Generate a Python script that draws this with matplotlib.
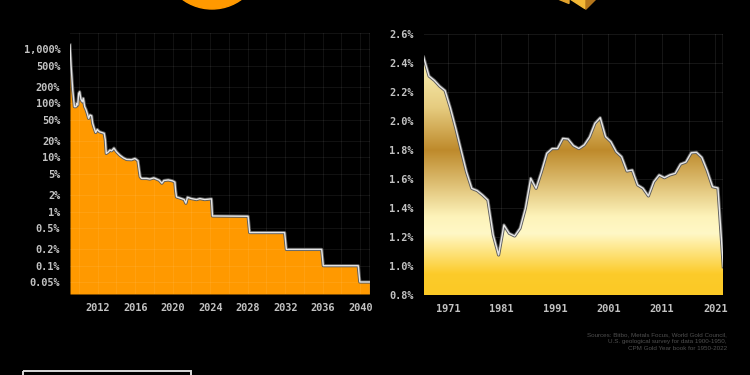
# Import necessary libraries
import matplotlib
matplotlib.use('Agg')
import matplotlib.pyplot as plt
from matplotlib.colors import LinearSegmentedColormap
from matplotlib.patches import Circle, Polygon, Rectangle, PathPatch
from matplotlib.path import Path
import numpy as np

plt.rcParams['font.family'] = 'DejaVu Sans Mono'

# Data
btc_years = [2009.05, 2009.16, 2009.34, 2009.52, 2009.7, 2009.76, 2009.87, 2009.98, 2010.08, 2010.22,
             2010.37, 2010.47, 2010.62, 2010.76, 2010.9, 2011.04, 2011.18, 2011.36, 2011.47, 2011.65,
             2011.79, 2011.96, 2012.18, 2012.43, 2012.7, 2012.82, 2012.92, 2013.14, 2013.31, 2013.49,
             2013.74, 2014.02, 2014.38, 2014.73, 2015.09, 2015.62, 2015.98, 2016.3, 2016.44, 2016.54,
             2016.69, 2017.22, 2017.57, 2018.0, 2018.57, 2018.85, 2019.06, 2019.53, 2020.0, 2020.24,
             2020.31, 2020.41, 2020.95, 2021.23, 2021.41, 2021.58, 2022.01, 2022.54, 2022.9, 2023.43,
             2024.14, 2024.25, 2028.05, 2028.22, 2031.95, 2032.13, 2035.9, 2036.07, 2039.8, 2039.97, 2040.99]
btc_inflation = [1200, 513, 177, 87, 87, 100, 93, 153, 164, 119,
                 107, 124, 87, 77, 65, 53, 61, 59, 43, 34,
                 29, 33, 30, 29, 28, 21, 11.9, 12.7, 13.7, 13.3,
                 14.9, 12.7, 11, 9.9, 9.2, 9.1, 9.6, 8.7, 5.8, 4.4,
                 4.1, 4.1, 4.0, 4.2, 3.8, 3.35, 3.75, 3.85, 3.7, 3.5,
                 2.5, 1.87, 1.74, 1.67, 1.43, 1.84, 1.74, 1.67, 1.74, 1.67,
                 1.72, 0.83, 0.82, 0.41, 0.41, 0.2, 0.2, 0.1, 0.1, 0.05, 0.05]
btc_ticks = [1000, 500, 200, 100, 50, 20, 10, 5, 2, 1, 0.5, 0.2, 0.1, 0.05]
btc_tick_labels = ['1,000%', '500%', '200%', '100%', '50%', '20%', '10%', '5%', '2%', '1%',
                   '0.5%', '0.2%', '0.1%', '0.05%']
btc_year_ticks = [2012, 2016, 2020, 2024, 2028, 2032, 2036, 2040]
btc_year_grid = [2010, 2012, 2014, 2016, 2018, 2020, 2022, 2024, 2026, 2028, 2030, 2032, 2034, 2036, 2038, 2040]

gold_years = list(range(1966, 2023))
gold_inflation = [2.44, 2.31, 2.28, 2.24, 2.21, 2.09, 1.95, 1.80, 1.65, 1.535,
                  1.52, 1.49, 1.455, 1.214, 1.076, 1.283, 1.225, 1.207, 1.26, 1.398,
                  1.605, 1.536, 1.65, 1.777, 1.81, 1.81, 1.88, 1.876, 1.83, 1.81,
                  1.835, 1.89, 1.984, 2.023, 1.892, 1.857, 1.788, 1.754, 1.655, 1.662,
                  1.559, 1.536, 1.483, 1.581, 1.628, 1.609, 1.628, 1.639, 1.703, 1.717,
                  1.781, 1.784, 1.749, 1.657, 1.547, 1.538, 0.995]
gold_ticks = [2.6, 2.4, 2.2, 2.0, 1.8, 1.6, 1.4, 1.2, 1.0, 0.8]
gold_year_ticks = [1971, 1981, 1991, 2001, 2011, 2021]
gold_year_grid = [1971, 1976, 1981, 1986, 1991, 1996, 2001, 2006, 2011, 2016, 2021]

sources = 'Sources: Bitbo, Metals Focus, World Gold Council,\nU.S. geological survey for data 1900-1950,\nCPM Gold Year book for 1950-2022'

label_col = '#c2c2c2'
grid_col = '#ffffff'

# 1. Figure and axes, placed in pixels
W, H = 750, 375
fig = plt.figure(figsize=(W / 100, H / 100), dpi=100, facecolor='black')


def px_axes(left, top, right, bottom):
    ax = fig.add_axes([left / W, 1 - bottom / H, (right - left) / W, (bottom - top) / H])
    ax.set_facecolor('black')
    for s in ax.spines.values():
        s.set_visible(False)
    return ax


# Background layer for the decorations, in pixel coordinates
bg = fig.add_axes([0, 0, 1, 1])
bg.set_xlim(0, W)
bg.set_ylim(H, 0)
bg.axis('off')
bg.add_patch(Circle((212, -41), 50, color='#FF9900'))
bg.add_patch(Polygon([(570, -1), (584, 8), (586, 9), (586, -1)], color='#F3B836'))
bg.add_patch(Polygon([(586, 9), (587, 8), (596, -1), (586, -1)], color='#B5761B'))
bg.add_patch(Polygon([(558, -1), (569, 3.5), (569, -1)], color='#E2A32D'))
bg.add_patch(Rectangle((22.5, 371), 168.5, 20, fill=False, ec='#d8d8d8', lw=1.4))

# 2. Bitcoin chart (log scale)
ax1 = px_axes(70, 33, 369.5, 294)
ax1.set_yscale('log')
ax1.set_xlim(2009.05, 2041)
ax1.set_ylim(0.03, 2000)
ax1.fill_between(btc_years, 0.03, np.minimum(btc_inflation, 380), color='#FF9900', lw=0, zorder=1)
ax1.set_xticks(btc_year_grid)
ax1.set_xticklabels([str(y) if y in btc_year_ticks else '' for y in btc_year_grid])
ax1.set_yticks(btc_ticks)
ax1.set_yticklabels(btc_tick_labels)
ax1.minorticks_off()
ax1.grid(True, color=grid_col, alpha=0.07, lw=0.7, zorder=2)
ax1.set_axisbelow(False)
ax1.axhline(2000, color=grid_col, alpha=0.09, lw=1.2, zorder=2)
ax1.axvline(2041, color=grid_col, alpha=0.09, lw=1.2, zorder=2)
ax1.plot(btc_years, btc_inflation, color='#5c5c5c', lw=2.3, zorder=3, solid_joinstyle='round')
ax1.plot(btc_years, btc_inflation, color='#e6e6e6', lw=1.0, zorder=4, solid_joinstyle='round')

# 3. Gold chart with gradient fill
ax2 = px_axes(423.7, 34, 723.3, 295)
ax2.set_xlim(1966, 2022)
ax2.set_ylim(0.8, 2.6)
gold_cmap = LinearSegmentedColormap.from_list('gold', [
    (0.0, '#FBC925'), (0.08, '#FCCB2A'), (0.235, '#FFF8C6'), (0.30, '#FDF3BA'),
    (0.555, '#BE8A2B'), (0.72, '#E6CC80'), (0.89, '#F9EEB0'), (1.0, '#FBF2B8')])
grad = np.linspace(0, 1, 256).reshape(-1, 1)
img = ax2.imshow(grad, cmap=gold_cmap, origin='lower', aspect='auto',
                 extent=(1966, 2022, 0.8, 2.6), zorder=1)
verts = list(zip(gold_years, gold_inflation)) + [(2022, 0.8), (1966, 0.8)]
clip = PathPatch(Path(verts + [verts[0]], closed=True), transform=ax2.transData, fc='none', ec='none')
ax2.add_patch(clip)
img.set_clip_path(clip)
# tick labels sit half a year after the yearly points
ax2.set_xticks([y - 0.46 for y in gold_year_grid])
ax2.set_xticklabels([str(y) if y in gold_year_ticks else '' for y in gold_year_grid])
ax2.set_yticks(gold_ticks)
ax2.set_yticklabels([f'{v:.1f}%' for v in gold_ticks])
ax2.grid(True, color=grid_col, alpha=0.09, lw=0.7, zorder=0)
ax2.set_axisbelow(True)
ax2.axvline(2022, color=grid_col, alpha=0.09, lw=1.2, zorder=0)
ax2.plot(gold_years, gold_inflation, color='#5c5c5c', lw=2.3, zorder=3, solid_joinstyle='round')
ax2.plot(gold_years, gold_inflation, color='#e6e6e6', lw=1.0, zorder=4, solid_joinstyle='round')

for ax in (ax1, ax2):
    ax.tick_params(axis='both', length=0, labelcolor=label_col, labelsize=7.4)
    ax.tick_params(axis='x', pad=6.5)
    ax.tick_params(axis='y', pad=7)
    for t in ax.get_xticklabels() + ax.get_yticklabels():
        t.set_fontweight('bold')

# 4. Sources note
fig.text(726.7 / W, 1 - 332.5 / H, sources, ha='right', va='top', color='#505050',
         fontsize=4.5, family='Liberation Sans', linespacing=1.5)

fig.savefig('out.png', dpi=100, facecolor='black')
